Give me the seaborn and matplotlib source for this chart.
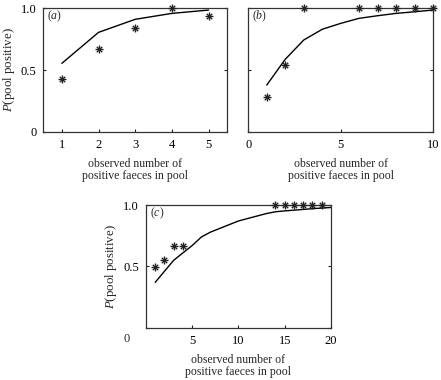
import matplotlib
matplotlib.use("Agg")
import matplotlib.pyplot as plt
import seaborn as sns
import pandas as pd

# panel (a)
a_obs_x = [1, 2, 3, 4, 5]
a_obs_y = [0.426, 0.668, 0.838, 1.0, 0.94]
a_fit_x = [1, 2, 3, 4, 5]
a_fit_y = [0.554, 0.805, 0.911, 0.959, 0.986]

# panel (b)
b_obs_x = [1, 2, 3, 6, 7, 8, 9, 10]
b_obs_y = [0.284, 0.54, 1.0, 1.0, 1.0, 1.0, 1.0, 1.0]
b_fit_x = [1, 2, 3, 4, 5, 6, 7, 8, 9, 10]
b_fit_y = [0.378, 0.587, 0.743, 0.83, 0.878, 0.919, 0.94, 0.959, 0.972, 0.986]

# panel (c)
c_obs_x = [1, 2, 3, 4, 14, 15, 16, 17, 18, 19]
c_obs_y = [0.497, 0.552, 0.668, 0.668, 1.0, 1.0, 1.0, 1.0, 1.0, 1.0]
c_fit_x = list(range(1, 21))
c_fit_y = [0.37, 0.46, 0.55, 0.61, 0.67, 0.74, 0.78, 0.81, 0.84, 0.87,
           0.89, 0.91, 0.93, 0.945, 0.952, 0.958, 0.964, 0.97, 0.975, 0.98]

xlabel = "observed number of\npositive faeces in pool"
ylabel = r"$\it{P}$(pool positive)"

sns.set_style("ticks")
plt.rcParams["font.family"] = ["Liberation Serif", "DejaVu Serif"]
plt.rcParams["mathtext.fontset"] = "custom"
plt.rcParams["mathtext.it"] = "Liberation Serif:italic"
plt.rcParams["mathtext.rm"] = "Liberation Serif"
plt.rcParams["font.size"] = 8.5

fig = plt.figure(figsize=(4.41, 3.80), dpi=100)
ax_a = fig.add_axes([0.0986, 0.6534, 0.416, 0.3247])
ax_b = fig.add_axes([0.563, 0.6534, 0.419, 0.3247])
ax_c = fig.add_axes([0.331, 0.1376, 0.4195, 0.3229])

panels = [
    (ax_a, a_obs_x, a_obs_y, a_fit_x, a_fit_y, "a", (0.5, 5.5), [1, 2, 3, 4, 5], ["0", "0.5", "1.0"]),
    (ax_b, b_obs_x, b_obs_y, b_fit_x, b_fit_y, "b", (0, 10), [0, 5, 10], None),
    (ax_c, c_obs_x, c_obs_y, c_fit_x, c_fit_y, "c", (0, 20), [5, 10, 15, 20], ["", "0.5", "1.0"]),
]

for ax, ox, oy, fx, fy, lab, xlim, xt, ylabs in panels:
    fit = pd.DataFrame({"x": fx, "y": fy})
    obs = pd.DataFrame({"x": ox, "y": oy})
    sns.lineplot(data=fit, x="x", y="y", ax=ax, color="black", linewidth=1.0)
    sns.scatterplot(data=obs, x="x", y="y", ax=ax, marker="+", s=32,
                    color="#222222", linewidth=1.0, clip_on=False, zorder=5)
    sns.scatterplot(data=obs, x="x", y="y", ax=ax, marker="x", s=15,
                    color="#222222", linewidth=1.0, clip_on=False, zorder=5)
    ax.set_xlim(*xlim)
    ax.set_ylim(0, 1)
    ax.set_xticks(xt)
    ax.set_xticklabels([str(t) for t in xt], fontsize=9)
    ax.set_yticks([0, 0.5, 1.0])
    if ylabs is not None:
        ax.set_yticklabels(ylabs, fontsize=9)
        ax.set_ylabel(ylabel, labelpad=3, fontsize=9.3)
    else:
        ax.set_yticklabels([])
        ax.set_ylabel("")
    ax.set_xlabel(xlabel, labelpad=5, linespacing=1.0)
    ax.tick_params(direction="in", length=2.5, width=0.8, right=True,
                   pad=5, colors="#222222", labelcolor="black")
    for sp in ax.spines.values():
        sp.set_linewidth(0.9)
        sp.set_color("#333333")
    ax.text(0.02, 0.935, "(" + r"$\it{" + lab + "}$" + ")", transform=ax.transAxes,
            ha="left", va="center", fontsize=8.5)

# the lone "0" sits beside the x tick row in panel (c)
ax_c.text(-0.103, -0.092, "0", transform=ax_c.transAxes, ha="center",
          va="center", fontsize=9)

fig.savefig("out.png", dpi=100)
